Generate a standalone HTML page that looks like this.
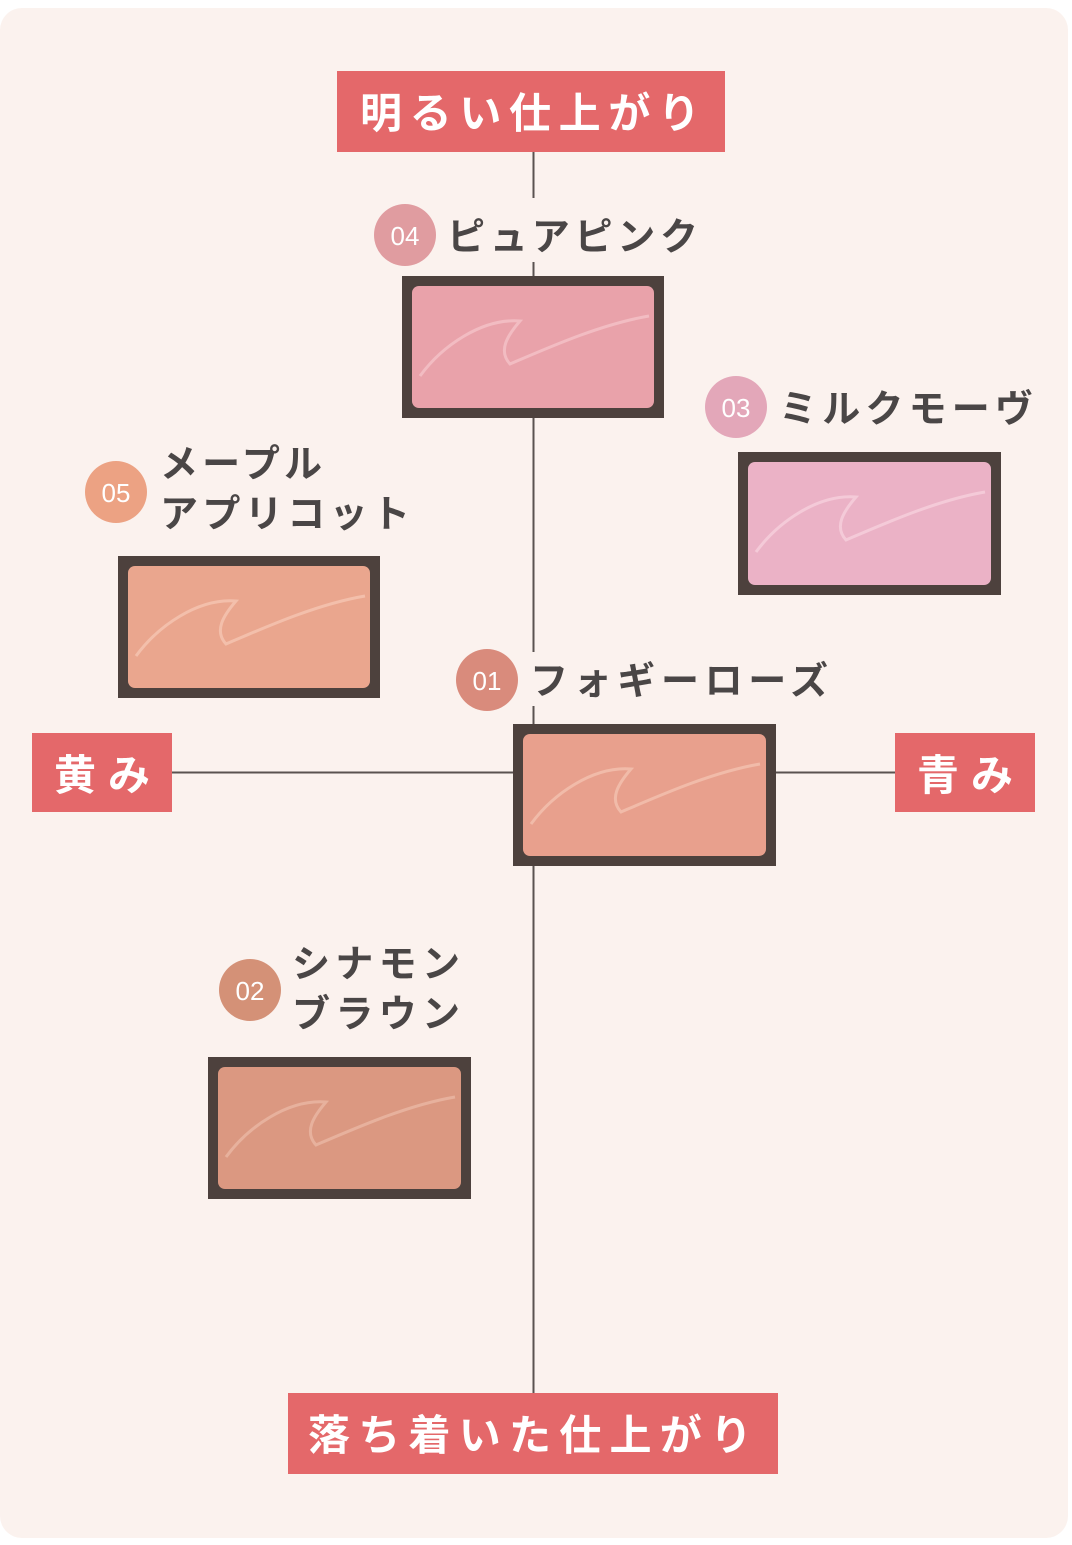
<!DOCTYPE html>
<html><head><meta charset="utf-8"><style>
html,body{margin:0;padding:0;background:#fff;}
svg{display:block;}
text{font-family:"Liberation Sans","Noto Sans CJK JP",sans-serif;}
</style></head><body>
<svg width="1072" height="1545" viewBox="0 0 1072 1545" xmlns="http://www.w3.org/2000/svg">
<rect x="0" y="8" width="1068" height="1530" rx="22" fill="#fbf2ee"/>
<!-- axes -->
<line x1="533.5" y1="152" x2="533.5" y2="1393" stroke="#5a5250" stroke-width="2"/>
<line x1="172" y1="772.5" x2="895" y2="772.5" stroke="#5a5250" stroke-width="2"/>
<!-- gaps behind labels -->
<rect x="440" y="198" width="262" height="64" fill="#fbf2ee"/>
<rect x="522" y="652" width="310" height="54" fill="#fbf2ee"/>
<!-- axis labels -->
<rect x="337" y="71" width="388" height="81" fill="#e4686a"/>
<text x="360" y="128" font-size="42" font-weight="bold" fill="#fff" textLength="340" lengthAdjust="spacing">明るい仕上がり</text>
<rect x="32" y="733" width="140" height="79" fill="#e4686a"/>
<text x="54" y="790" font-size="42" font-weight="bold" fill="#fff" textLength="96" lengthAdjust="spacing">黄み</text>
<rect x="895" y="733" width="140" height="79" fill="#e4686a"/>
<text x="917" y="790" font-size="42" font-weight="bold" fill="#fff" textLength="96" lengthAdjust="spacing">青み</text>
<rect x="288" y="1393" width="490" height="81" fill="#e4686a"/>
<text x="308" y="1450" font-size="42" font-weight="bold" fill="#fff" textLength="444" lengthAdjust="spacing">落ち着いた仕上がり</text>

<!-- palettes -->
<g transform="translate(402,276)">
<rect width="262" height="142" fill="#4d413d"/><rect x="10" y="10" width="242" height="122" rx="7" fill="#e9a2aa"/>
<path d="M18 100 C40 70 80 42 118 45 C105 60 96 75 108 88 C150 70 200 48 247 40" stroke="#f2bcc2" stroke-width="3" fill="none"/>
</g>
<g transform="translate(738,452)">
<rect width="263" height="143" fill="#4d413d"/><rect x="10" y="10" width="243" height="123" rx="7" fill="#ebb2c6"/>
<path d="M18 100 C40 70 80 42 118 45 C105 60 96 75 108 88 C150 70 200 48 247 40" stroke="#f4cad8" stroke-width="3" fill="none"/>
</g>
<g transform="translate(118,556)">
<rect width="262" height="142" fill="#4d413d"/><rect x="10" y="10" width="242" height="122" rx="7" fill="#eaa68e"/>
<path d="M18 100 C40 70 80 42 118 45 C105 60 96 75 108 88 C150 70 200 48 247 40" stroke="#f3bfab" stroke-width="3" fill="none"/>
</g>
<g transform="translate(513,724)">
<rect width="263" height="142" fill="#4d413d"/><rect x="10" y="10" width="243" height="122" rx="7" fill="#e8a08d"/>
<path d="M18 100 C40 70 80 42 118 45 C105 60 96 75 108 88 C150 70 200 48 247 40" stroke="#f1bba9" stroke-width="3" fill="none"/>
</g>
<g transform="translate(208,1057)">
<rect width="263" height="142" fill="#4d413d"/><rect x="10" y="10" width="243" height="122" rx="7" fill="#db9881"/>
<path d="M18 100 C40 70 80 42 118 45 C105 60 96 75 108 88 C150 70 200 48 247 40" stroke="#e7b19d" stroke-width="3" fill="none"/>
</g>

<!-- circles -->
<g font-size="26" text-anchor="middle">
<circle cx="405" cy="235" r="31" fill="#e09ca0"/><text x="405" y="245" fill="#fff">04</text>
<circle cx="736" cy="407" r="31" fill="#e3a7b9"/><text x="736" y="417" fill="#fff">03</text>
<circle cx="116" cy="492" r="31" fill="#eca283"/><text x="116" y="502" fill="#fff">05</text>
<circle cx="487" cy="680" r="31" fill="#d98b7c"/><text x="487" y="690" fill="#fff">01</text>
<circle cx="250" cy="990" r="31" fill="#d49177"/><text x="250" y="1000" fill="#fff">02</text>
</g>
<!-- names -->
<g font-size="38" font-weight="bold" fill="#4a4646">
<text x="447" y="250" textLength="251" lengthAdjust="spacing">ピュアピンク</text>
<text x="779" y="422" textLength="254" lengthAdjust="spacing">ミルクモーヴ</text>
<text x="160" y="477" textLength="162" lengthAdjust="spacing">メープル</text>
<text x="160" y="527" textLength="250" lengthAdjust="spacing">アプリコット</text>
<text x="530" y="694" textLength="298" lengthAdjust="spacing">フォギーローズ</text>
<text x="292" y="977" textLength="168" lengthAdjust="spacing">シナモン</text>
<text x="292" y="1027" textLength="168" lengthAdjust="spacing">ブラウン</text>
</g>
</svg>
</body></html>
